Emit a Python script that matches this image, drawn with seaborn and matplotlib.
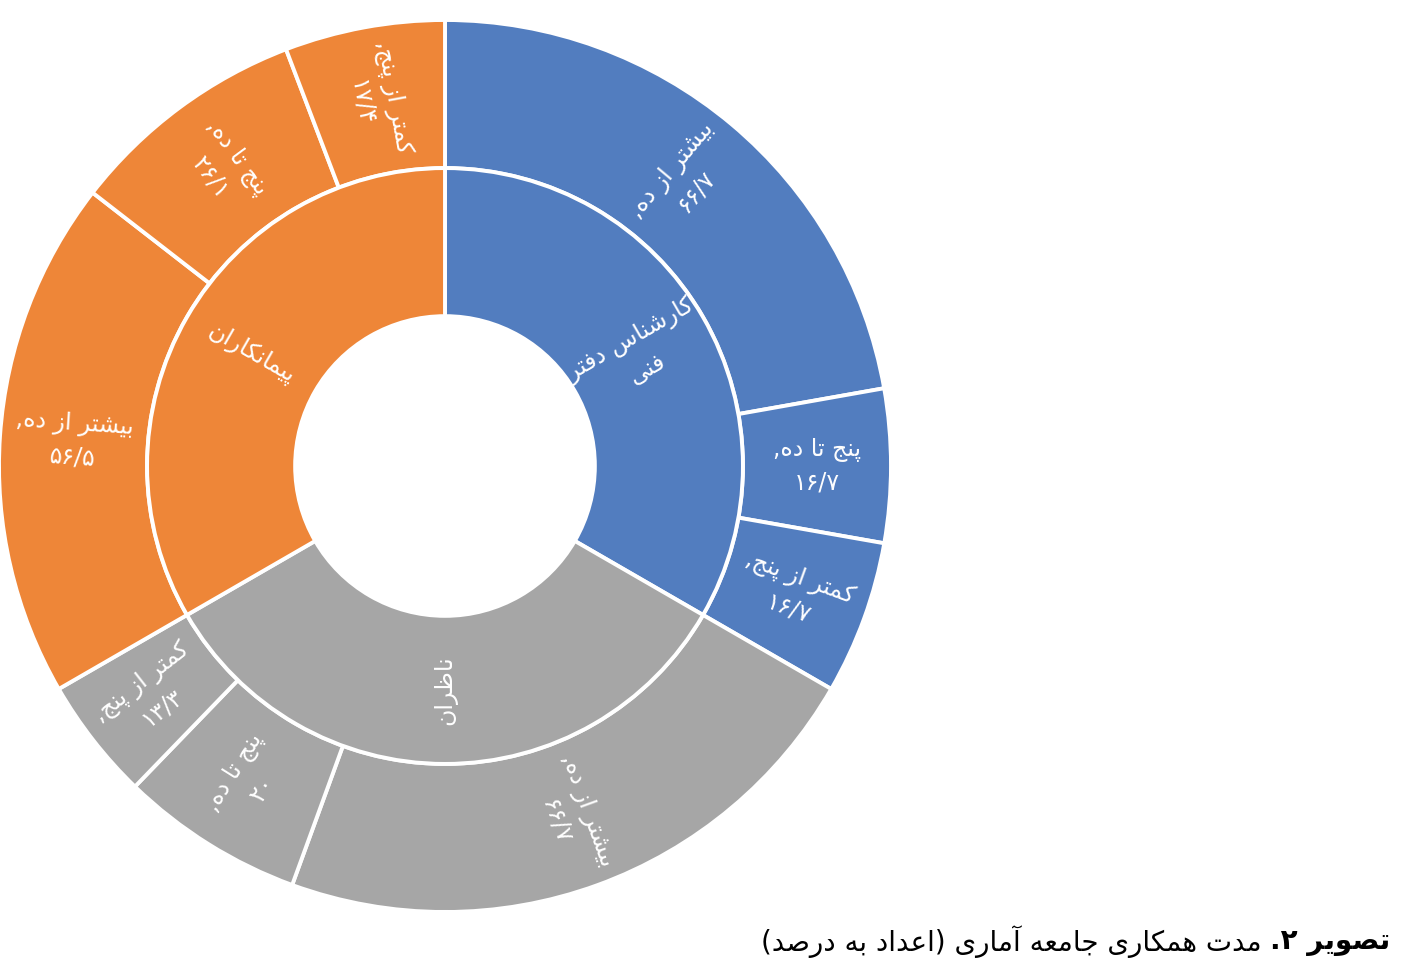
import re
import numpy as np
import matplotlib
matplotlib.use('Agg')
import matplotlib.pyplot as plt
import seaborn as sns

# values (percent inside each group)
groups = ['کارشناس دفتر فنی', 'ناظران', 'پیمانکاران']
group_labels = ['کارشناس دفتر\nفنی', 'ناظران', 'پیمانکاران']
tenure = ['بیشتر از ده', 'پنج تا ده', 'کمتر از پنج']
office_pct = [66.7, 16.7, 16.7]
supervisor_pct = [66.7, 20.0, 13.3]
contractor_pct = [56.5, 26.1, 17.4]
caption_bold = 'تصویر ۲.'
caption_rest = 'مدت همکاری جامعه آماری (اعداد به درصد)'

group_colors = ['#527dbf', '#a6a6a6', '#ee8638']

# --- tiny arabic/persian shaper (matplotlib does no shaping / bidi) ---
DUAL = {'ب': 0xFE8F, 'پ': 0xFB56, 'ت': 0xFE95, 'ج': 0xFE9D, 'س': 0xFEB1,
        'ش': 0xFEB5, 'ص': 0xFEB9, 'ظ': 0xFEC5, 'ع': 0xFEC9, 'ف': 0xFED1,
        'ک': 0xFB8E, 'م': 0xFEE1, 'ن': 0xFEE5, 'ه': 0xFEE9, 'ی': 0xFBFC}
RIGHT = {'ا': 0xFE8D, 'آ': 0xFE81, 'د': 0xFEA9, 'ر': 0xFEAD, 'ز': 0xFEAF,
         'و': 0xFEED}
NUM = re.compile(r'[0-9۰-۹]+(?:/[0-9۰-۹]+)*')
MIRROR = str.maketrans('()', ')(')
TO_FA = str.maketrans('0123456789.', '۰۱۲۳۴۵۶۷۸۹/')


def shape(s):
    out = []
    for i, ch in enumerate(s):
        prev = s[i - 1] if i > 0 else ''
        nxt = s[i + 1] if i + 1 < len(s) else ''
        jp = prev in DUAL
        if ch in DUAL:
            jn = nxt in DUAL or nxt in RIGHT
            idx = {(False, False): 0, (True, False): 1,
                   (False, True): 2, (True, True): 3}[(jp, jn)]
            out.append(chr(DUAL[ch] + idx))
        elif ch in RIGHT:
            out.append(chr(RIGHT[ch] + (1 if jp else 0)))
        else:
            out.append(ch)
    return ''.join(out)


def rtl(text):
    lines = []
    for line in text.split('\n'):
        s = shape(line)
        parts, pos = [], 0
        for m in NUM.finditer(s):
            parts.append(s[pos:m.start()][::-1].translate(MIRROR))
            parts.append(m.group())
            pos = m.end()
        parts.append(s[pos:][::-1].translate(MIRROR))
        lines.append(''.join(reversed(parts)))
    return '\n'.join(lines)


def radial_rot(ang):
    rot = (ang + 180) % 360 - 180
    if rot > 90:
        rot -= 180
    if rot < -89.5:
        rot += 180
    return rot


sns.set_style('white')
plt.rcParams['font.family'] = ['DejaVu Sans']

fig = plt.figure(figsize=(14.24, 9.8), dpi=100)
ax = fig.add_axes([(445 - 446) / 1424, (980 - 466 - 446) / 980, 892 / 1424, 892 / 980])

palette = sns.color_palette(group_colors)
all_pct = [office_pct, supervisor_pct, contractor_pct]

outer_sizes, outer_colors, outer_text = [], [], []
for g, pcts in enumerate(all_pct):
    tot = sum(pcts)
    for name, v in zip(tenure, pcts):
        outer_sizes.append(v / tot)
        outer_colors.append(palette[g])
        outer_text.append(name + ',\n' + f'{v:g}'.translate(TO_FA))

ring = 0.332
wp = dict(width=ring, edgecolor='white', linewidth=2.8)
outer, _ = ax.pie(outer_sizes, radius=1.0, colors=outer_colors, startangle=90,
                  counterclock=False, wedgeprops=wp)
inner, _ = ax.pie([1] * len(groups), radius=1.0 - ring, colors=palette,
                  startangle=90, counterclock=False, wedgeprops=wp)


def put_labels(wedges, texts, r):
    for w, t in zip(wedges, texts):
        ang = (w.theta1 + w.theta2) / 2
        x = r * np.cos(np.deg2rad(ang))
        y = r * np.sin(np.deg2rad(ang))
        ax.text(x, y, rtl(t), rotation=radial_rot(ang), rotation_mode='anchor',
                ha='center', va='center', multialignment='center',
                color='white', fontsize=17, linespacing=1.45)


put_labels(outer, outer_text, 1.0 - ring / 2)
put_labels(inner, group_labels, 1.0 - ring * 1.5)

ax.set_xlim(-1, 1)
ax.set_ylim(-1, 1)
ax.set_aspect('equal')
ax.axis('off')

# caption, bold part on the right
cy = (980 - 942) / 980
tb = fig.text(1390 / 1424, cy, rtl(caption_bold), ha='right', va='center',
              fontsize=20, fontweight='bold', color='black')
fig.canvas.draw()
bb = tb.get_window_extent(renderer=fig.canvas.get_renderer())
fig.text((bb.x0 - 8) / fig.bbox.width, cy, rtl(caption_rest), ha='right',
         va='center', fontsize=20, color='black')

fig.savefig('out.png', dpi=100, facecolor='white')
